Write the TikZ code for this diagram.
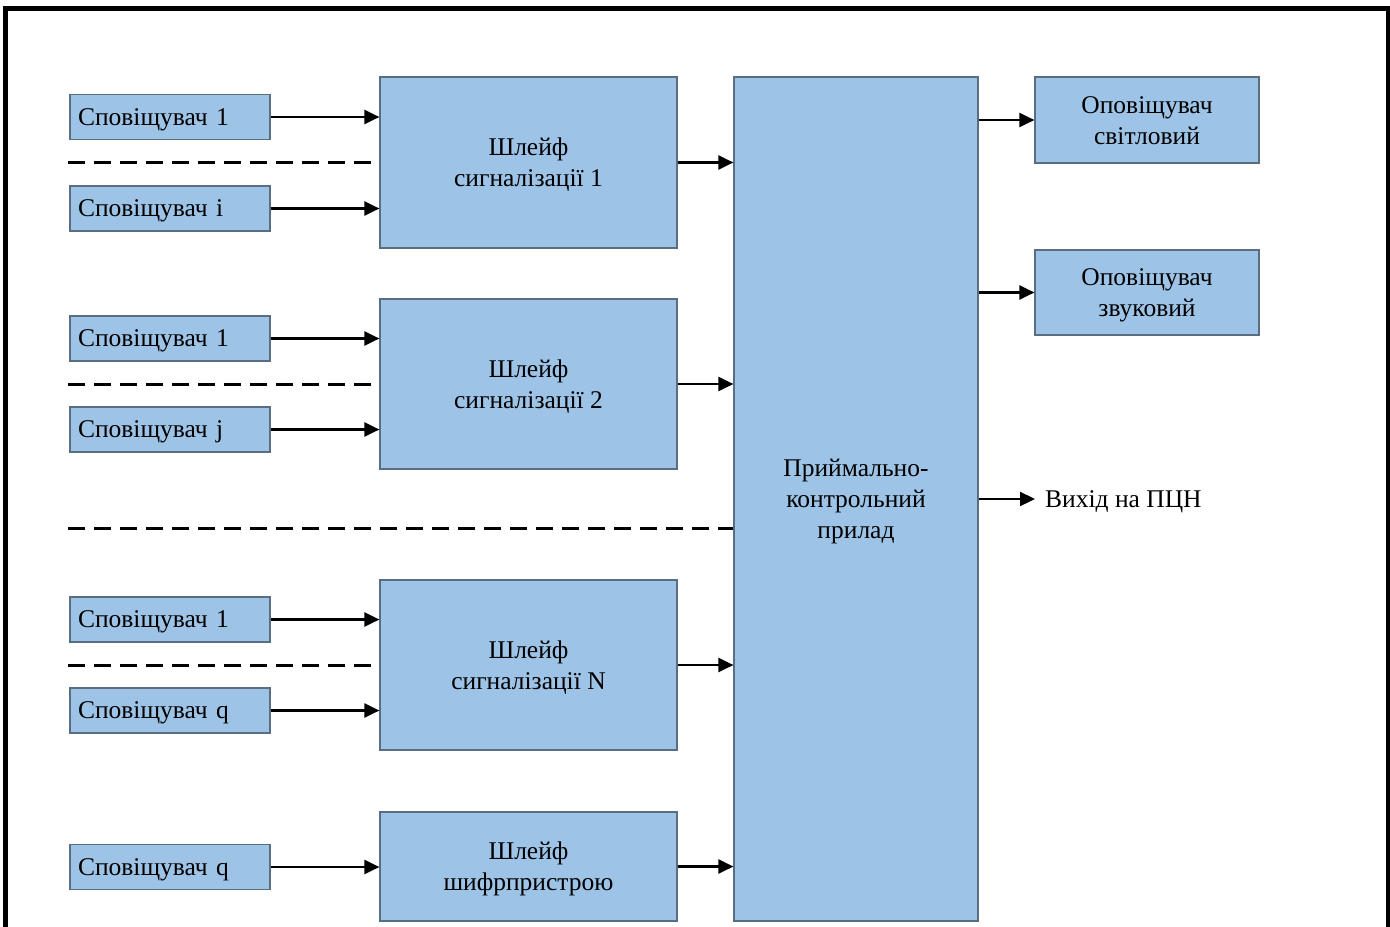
\documentclass[tikz,border=0pt]{standalone}
\usepackage{fontspec}
\setmainfont{Liberation Serif}
\usetikzlibrary{arrows.meta}
\definecolor{boxfill}{HTML}{9DC3E6}
\definecolor{boxline}{HTML}{5A6E82}
% fixed line box so every centred line sits at the same height
\newcommand\linebox{\rule[-6bp]{0pt}{29.4bp}}
\begin{document}
\begin{tikzpicture}[x=1bp,y=-1bp,
  font=\fontsize{25.5bp}{31bp}\selectfont,
  block/.style={draw=boxline, line width=1.2bp, fill=boxfill, inner sep=0pt, align=center},
  sensor/.style={block, minimum height=45bp, text width=184bp, inner xsep=8bp, align=left,
                 text height=17bp, text depth=1bp},
  loopbox/.style={block, minimum width=297bp},
  notifier/.style={block, minimum width=224bp},
  link/.style={line width=2.2bp, -{Triangle[length=15bp,width=14bp]}},
  sep/.style={line width=3bp, dash pattern=on 16.7bp off 9.3bp}
]
\useasboundingbox (0,0) rectangle (1390,926);

% outer frame (open at the bottom edge)
\draw[line width=4.5bp] (5.5,940) -- (5.5,8.5) -- (1388,8.5) -- (1388,940);

% control panel
\node[block, minimum width=244bp, minimum height=844bp] (panel) at (856,499)
  {\linebox Приймально-\\\linebox контрольний\\\linebox прилад};

% signalling loops
\node[loopbox, minimum height=171bp] (loop1) at (528.5,162.5) {\linebox Шлейф\\\linebox сигналізації 1};
\node[loopbox, minimum height=170bp] (loop2) at (528.5,384) {\linebox Шлейф\\\linebox сигналізації 2};
\node[loopbox, minimum height=170bp] (loopN) at (528.5,665) {\linebox Шлейф\\\linebox сигналізації N};
\node[loopbox, minimum height=109bp] (loopC) at (528.5,866.5) {\linebox Шлейф\\\linebox шифрпристрою};

% detectors
\node[sensor] (s11) at (170,117)   {Сповіщувач 1};
\node[sensor] (s1i) at (170,208.5) {Сповіщувач і};
\node[sensor] (s21) at (170,338.5) {Сповіщувач 1};
\node[sensor] (s2j) at (170,429.5) {Сповіщувач j};
\node[sensor] (sN1) at (170,619.5) {Сповіщувач 1};
\node[sensor] (sNq) at (170,710.5) {Сповіщувач q};
\node[sensor] (sCq) at (170,867)   {Сповіщувач q};

% annunciators and output
\node[notifier, minimum height=86bp] (light) at (1147,120) {\linebox Оповіщувач\\\linebox світловий};
\node[notifier, minimum height=85bp] (sound) at (1147,292.5) {\linebox Оповіщувач\\\linebox звуковий};
\node[anchor=west, inner xsep=10bp, inner ysep=0pt, text height=17bp, text depth=1bp] (out)
  at (1035,499) {Вихід на ПЦН};

% detector -> loop
\foreach \s/\l in {s11/loop1, s1i/loop1, s21/loop2, s2j/loop2, sN1/loopN, sNq/loopN, sCq/loopC}
  \draw[link] (\s.east) -- (\s.east -| \l.west);

% loop -> panel
\foreach \l in {loop1, loop2, loopN, loopC}
  \draw[link] (\l.east) -- (\l.east -| panel.west);

% panel -> annunciators / output
\draw[link] (panel.east |- light.west) -- (light.west);
\draw[link] (panel.east |- sound.west) -- (sound.west);
\draw[link] (panel.east |- out.west) -- (out.west);

% dashed separators between detectors and between loop groups
\coordinate (d1) at (68,162.5);
\coordinate (d2) at (68,384);
\coordinate (d3) at (68,528);
\coordinate (d4) at (68,665);
\draw[sep] (d1) -- (loop1.west);
\draw[sep] (d2) -- (loop2.west);
\draw[sep] (d3) -- (d3 -| panel.west);
\draw[sep] (d4) -- (loopN.west);
\end{tikzpicture}
\end{document}
